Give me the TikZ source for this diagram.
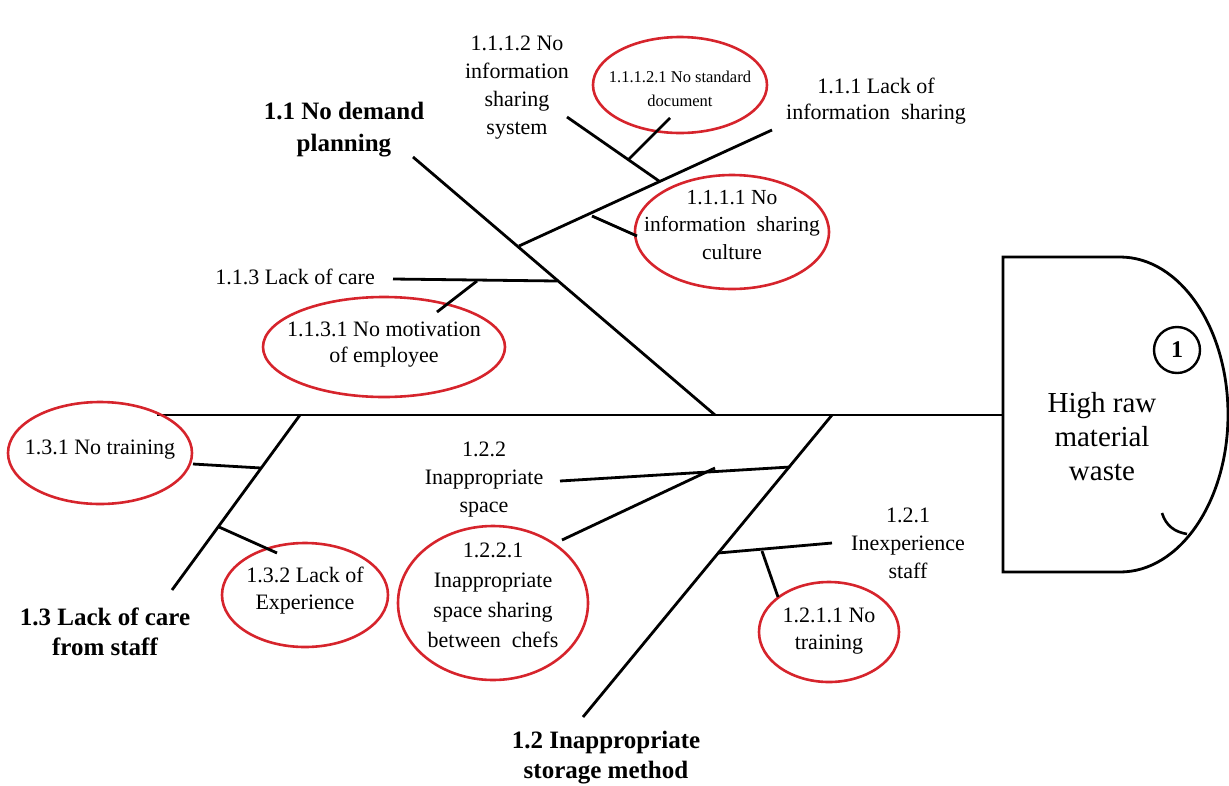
\documentclass[tikz,border=0pt]{standalone}
\usepackage{fontspec}
\setmainfont{Liberation Serif}
\usetikzlibrary{shapes.geometric}
\definecolor{causered}{RGB}{214,36,44}

\begin{document}
\begin{tikzpicture}[x=1pt,y=-1pt,
  bone/.style={line width=2.8pt},
  lbl/.style={font=\fontsize{22}{28}\selectfont, align=center, inner sep=0pt},
  tinylbl/.style={font=\fontsize{16.5}{24}\selectfont, align=center, inner sep=0pt},
  cat/.style={font=\fontsize{25}{30}\selectfont\bfseries, align=center, inner sep=0pt},
  cause/.style={ellipse, draw=causered, line width=2.6pt, inner sep=0pt}
]
\useasboundingbox (0,0) rectangle (1229,785);

% ---------- effect head ----------
\draw[line width=2.8pt] (1003,257) -- (1120,257) arc (-90:90:108 and 157.5) -- (1003,572) -- cycle;
\node[font=\fontsize{29}{34}\selectfont, align=center, inner sep=0pt] (effect) at (1102,437) {High raw\\material\\waste};
\node[circle, draw, line width=2.4pt, minimum size=46pt, inner sep=0pt,
      font=\fontsize{24}{24}\selectfont\bfseries] (num) at (1177,350) {1};
\draw[line width=2.6pt] (1162,513) .. controls (1166,526) and (1175,532) .. (1187,534);

% ---------- spine ----------
\coordinate (tail) at (157,415);
\coordinate (headjoin) at (1003,415);
\draw[bone] (tail) -- (headjoin);

% ---------- 1.1 No demand planning ----------
\node[cat, font=\fontsize{25}{32}\selectfont\bfseries] (c11) at (344,130) {1.1 No demand\\planning};
\coordinate (b11a) at (413,157);
\coordinate (b11b) at (715,415);
\draw[bone] (b11a) -- (b11b);

\node[lbl, font=\fontsize{22}{26}\selectfont] (t111) at (876,101) {1.1.1 Lack of\\information\ \ sharing};
\coordinate (b111a) at (519,246);
\coordinate (b111b) at (772,130);
\draw[bone] (b111a) -- (b111b);

\node[lbl] (t1112) at (517,88) {1.1.1.2 No\\information\\sharing\\system};
\coordinate (b1112a) at (567,117);
\coordinate (b1112b) at (659,181);
\draw[bone] (b1112a) -- (b1112b);

\node[cause, minimum width=174pt, minimum height=96pt] (e11121) at (680,85) {};
\node[tinylbl] (x11121) at (680,89) {1.1.1.2.1 No standard\\document};
\coordinate (k11121a) at (628,160);
\coordinate (k11121b) at (670,118);
\draw[bone] (k11121a) -- (k11121b);

\node[cause, minimum width=194pt, minimum height=114pt] (e1111) at (732,232) {};
\node[lbl, font=\fontsize{21.5}{27.5}\selectfont] (x1111) at (732,225) {1.1.1.1 No\\information\ \ sharing\\culture};
\coordinate (k1111a) at (592,216);
\coordinate (k1111b) at (637,236);
\draw[bone] (k1111a) -- (k1111b);

\node[lbl, anchor=east] (t113) at (375,277) {1.1.3 Lack of care};
\coordinate (b113a) at (393,279);
\coordinate (b113b) at (557,281);
\draw[bone] (b113a) -- (b113b);

\node[cause, minimum width=242pt, minimum height=100pt] (e1131) at (384,347) {};
\node[lbl, font=\fontsize{22}{26}\selectfont] (x1131) at (384,345) {1.1.3.1 No motivation\\of employee};
\coordinate (k1131a) at (437,312);
\coordinate (k1131b) at (477,281);
\draw[bone] (k1131a) -- (k1131b);

% ---------- 1.3 Lack of care from staff ----------
\node[cat] (c13) at (105,632) {1.3 Lack of care\\from staff};
\coordinate (b13a) at (300,415);
\coordinate (b13b) at (172,590);
\draw[bone] (b13a) -- (b13b);

\node[cause, minimum width=184pt, minimum height=102pt] (e131) at (100,453) {};
\node[lbl] (x131) at (100,450) {1.3.1 No training};
\coordinate (k131a) at (193,464);
\coordinate (k131b) at (261,468);
\draw[bone] (k131a) -- (k131b);

\node[cause, minimum width=166pt, minimum height=104pt] (e132) at (305,595) {};
\node[lbl, font=\fontsize{22}{27}\selectfont] (x132) at (305,591) {1.3.2 Lack of\\Experience};
\coordinate (k132a) at (219,527);
\coordinate (k132b) at (277,553);
\draw[bone] (k132a) -- (k132b);

% ---------- 1.2 Inappropriate storage method ----------
\node[cat] (c12) at (606,758) {1.2 Inappropriate\\storage method};
\coordinate (b12a) at (832,415);
\coordinate (b12b) at (583,717);
\draw[bone] (b12a) -- (b12b);

\node[lbl] (t122) at (484,480) {1.2.2\\Inappropriate\\space};
\coordinate (b122a) at (560,481);
\coordinate (b122b) at (790,467);
\draw[bone] (b122a) -- (b122b);

\node[cause, minimum width=190pt, minimum height=154pt] (e1221) at (493,603) {};
\node[lbl, font=\fontsize{22}{30}\selectfont] (x1221) at (493,595) {1.2.2.1\\Inappropriate\\space sharing\\between\ \ chefs};
\coordinate (k1221a) at (562,540);
\coordinate (k1221b) at (715,468);
\draw[bone] (k1221a) -- (k1221b);

\node[lbl] (t121) at (908,543) {1.2.1\\Inexperience\\staff};
\coordinate (b121a) at (718,553);
\coordinate (b121b) at (832,543);
\draw[bone] (b121a) -- (b121b);

\node[cause, minimum width=140pt, minimum height=100pt] (e1211) at (829,632) {};
\node[lbl, font=\fontsize{22}{27}\selectfont] (x1211) at (829,631) {1.2.1.1 No\\training};
\coordinate (k1211a) at (762,551);
\coordinate (k1211b) at (778,597);
\draw[bone] (k1211a) -- (k1211b);
\end{tikzpicture}
\end{document}
